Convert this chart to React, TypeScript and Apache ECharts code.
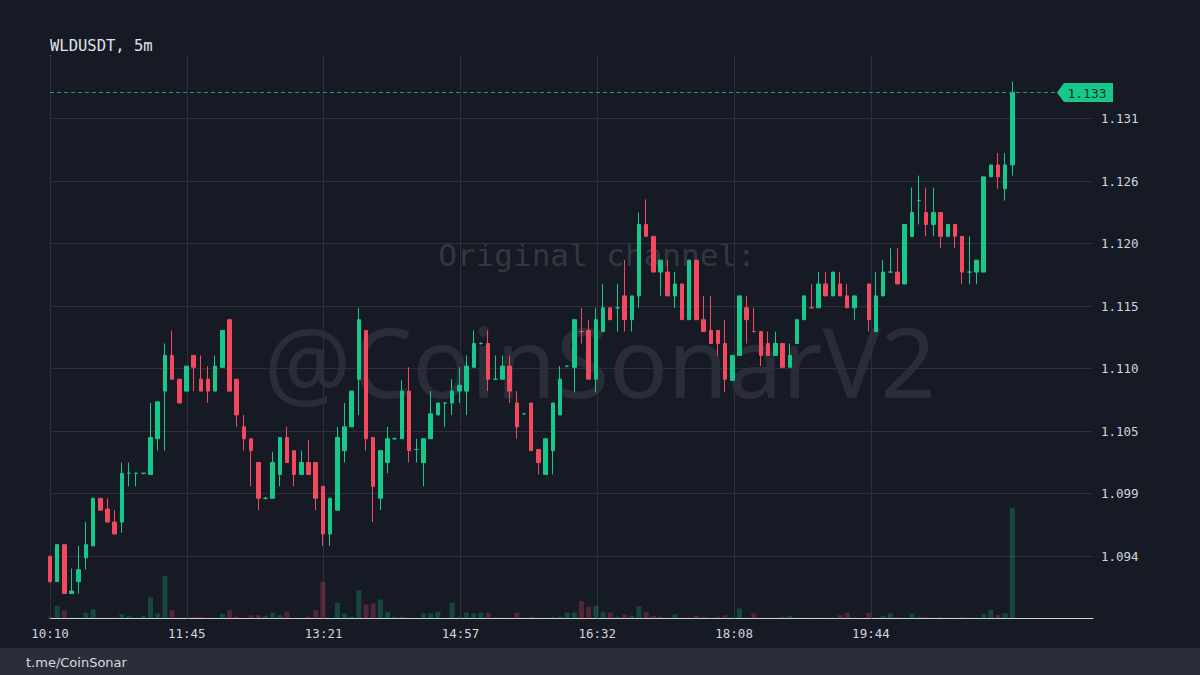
import React, { useEffect, useRef } from 'react';
import * as echarts from 'echarts';

// ---------- data ----------
const titleText = 'WLDUSDT, 5m';
const footerText = 't.me/CoinSonar';
const watermarkTop = 'Original channel:';
const watermarkMain = '@CoinSonarV2';

// time labels shown on the x axis (every ~19 candles of 5m)
const timeLabels = ['10:10', '11:45', '13:21', '14:57', '16:32', '18:08', '19:44'];
// price tick labels on the right axis
const priceLabels = ['1.094', '1.099', '1.105', '1.110', '1.115', '1.120', '1.126', '1.131'];
const lastPriceLabel = '1.133';

// [open, high, low, close]
const ohlc: ([number, number, number, number] | null)[] = [
  [1.0940, 1.0941, 1.0918, 1.0919], [1.0919, 1.0950, 1.0919, 1.0950], [1.0950, 1.0950, 1.0909, 1.0909],
  [1.0909, 1.0930, 1.0909, 1.0911], [1.0919, 1.0949, 1.0909, 1.0929], [1.0939, 1.0969, 1.0929, 1.0950],
  [1.0949, 1.0989, 1.0949, 1.0989], [1.0989, 1.0989, 1.0979, 1.0979], [1.0980, 1.0989, 1.0969, 1.0969],
  [1.0969, 1.0979, 1.0959, 1.0959],
  [1.0969, 1.1019, 1.0960, 1.1010], [1.1010, 1.1019, 1.0999, 1.1010], [1.1010, 1.1010, 1.0999, 1.1010],
  [1.1010, 1.1010, 1.1009, 1.1010], [1.1009, 1.1069, 1.1009, 1.1040], [1.1039, 1.1070, 1.1029, 1.1070],
  [1.1079, 1.1119, 1.1029, 1.1109], [1.1109, 1.1130, 1.1089, 1.1089], [1.1089, 1.1089, 1.1069, 1.1069],
  [1.1079, 1.1100, 1.1079, 1.1100],
  [1.1109, 1.1109, 1.1079, 1.1099], [1.1089, 1.1109, 1.1079, 1.1079], [1.1089, 1.1100, 1.1069, 1.1079],
  [1.1079, 1.1109, 1.1079, 1.1100], [1.1099, 1.1130, 1.1099, 1.1130], [1.1139, 1.1139, 1.1079, 1.1079],
  [1.1089, 1.1089, 1.1049, 1.1059], [1.1049, 1.1059, 1.1029, 1.1039], [1.1039, 1.1039, 1.0999, 1.1029],
  [1.1019, 1.1019, 1.0979, 1.0989],
  [1.0989, 1.0990, 1.0988, 1.0989], [1.0989, 1.1028, 1.0989, 1.1019], [1.1009, 1.1040, 1.0999, 1.1040],
  [1.1040, 1.1049, 1.1019, 1.1019], [1.1029, 1.1029, 1.0999, 1.1009], [1.1009, 1.1029, 1.1009, 1.1019],
  [1.1019, 1.1038, 1.1009, 1.1009], [1.1019, 1.1019, 1.0979, 1.0989], [1.0999, 1.0999, 1.0949, 1.0959],
  [1.0959, 1.0989, 1.0949, 1.0989],
  [1.0979, 1.1049, 1.0979, 1.1040], [1.1029, 1.1069, 1.1019, 1.1049], [1.1049, 1.1079, 1.1049, 1.1079],
  [1.1089, 1.1149, 1.1059, 1.1139], [1.1130, 1.1130, 1.1029, 1.1039], [1.1040, 1.1040, 1.0969, 1.0999],
  [1.0989, 1.1029, 1.0979, 1.1029], [1.1019, 1.1049, 1.1010, 1.1039], [1.1039, 1.1040, 1.1038, 1.1039],
  [1.1039, 1.1088, 1.1039, 1.1079],
  [1.1079, 1.1099, 1.1019, 1.1029], [1.1030, 1.1039, 1.1019, 1.1030], [1.1019, 1.1039, 1.0999, 1.1039],
  [1.1039, 1.1079, 1.1039, 1.1060], [1.1059, 1.1069, 1.1059, 1.1069], [1.1069, 1.1069, 1.1049, 1.1069],
  [1.1069, 1.1089, 1.1059, 1.1079], [1.1079, 1.1099, 1.1069, 1.1084], [1.1079, 1.1109, 1.1059, 1.1100],
  [1.1099, 1.1130, 1.1099, 1.1119],
  [1.1119, 1.1120, 1.1118, 1.1119], [1.1119, 1.1130, 1.1079, 1.1089], [1.1089, 1.1109, 1.1089, 1.1089],
  [1.1089, 1.1109, 1.1089, 1.1100], [1.1100, 1.1109, 1.1069, 1.1079], [1.1069, 1.1079, 1.1039, 1.1049],
  [1.1060, 1.1060, 1.1059, 1.1060], [1.1069, 1.1069, 1.1029, 1.1029], [1.1030, 1.1030, 1.1009, 1.1019],
  [1.1009, 1.1039, 1.1009, 1.1039],
  [1.1029, 1.1069, 1.1009, 1.1069], [1.1059, 1.1100, 1.1059, 1.1089], [1.1100, 1.1100, 1.1099, 1.1100],
  [1.1099, 1.1139, 1.1078, 1.1139], [1.1129, 1.1149, 1.1119, 1.1129], [1.1130, 1.1139, 1.1089, 1.1089],
  [1.1089, 1.1149, 1.1078, 1.1139], [1.1129, 1.1169, 1.1129, 1.1149], [1.1149, 1.1149, 1.1139, 1.1139],
  [1.1149, 1.1169, 1.1129, 1.1149],
  [1.1159, 1.1189, 1.1129, 1.1139], [1.1139, 1.1159, 1.1129, 1.1159], [1.1159, 1.1229, 1.1149, 1.1219],
  [1.1219, 1.1240, 1.1209, 1.1209], [1.1209, 1.1209, 1.1179, 1.1179], [1.1179, 1.1189, 1.1159, 1.1189],
  [1.1179, 1.1189, 1.1159, 1.1159], [1.1159, 1.1179, 1.1149, 1.1169], [1.1169, 1.1169, 1.1139, 1.1139],
  [1.1139, 1.1189, 1.1139, 1.1189],
  [1.1189, 1.1189, 1.1139, 1.1139], [1.1139, 1.1159, 1.1129, 1.1129], [1.1130, 1.1159, 1.1119, 1.1119],
  [1.1130, 1.1130, 1.1109, 1.1119], [1.1119, 1.1139, 1.1078, 1.1089], [1.1088, 1.1109, 1.1088, 1.1109],
  [1.1109, 1.1159, 1.1109, 1.1159], [1.1149, 1.1159, 1.1119, 1.1139], [1.1129, 1.1149, 1.1129, 1.1129],
  [1.1129, 1.1129, 1.1100, 1.1109],
  [1.1119, 1.1129, 1.1109, 1.1109], [1.1109, 1.1129, 1.1109, 1.1119], [1.1119, 1.1119, 1.1099, 1.1099],
  [1.1099, 1.1119, 1.1099, 1.1109], [1.1119, 1.1139, 1.1119, 1.1139], [1.1139, 1.1159, 1.1139, 1.1159],
  [1.1149, 1.1169, 1.1149, 1.1149], [1.1149, 1.1179, 1.1149, 1.1169], [1.1169, 1.1179, 1.1159, 1.1159],
  [1.1159, 1.1179, 1.1159, 1.1179],
  [1.1169, 1.1179, 1.1159, 1.1159], [1.1159, 1.1169, 1.1149, 1.1149], [1.1149, 1.1159, 1.1139, 1.1159],
  null, [1.1169, 1.1169, 1.1129, 1.1139], [1.1129, 1.1179, 1.1129, 1.1159],
  [1.1159, 1.1189, 1.1159, 1.1179], [1.1179, 1.1199, 1.1179, 1.1179], [1.1179, 1.1199, 1.1169, 1.1169],
  [1.1169, 1.1219, 1.1169, 1.1219],
  [1.1209, 1.1250, 1.1209, 1.1229], [1.1239, 1.1260, 1.1219, 1.1239], [1.1229, 1.1250, 1.1209, 1.1219],
  [1.1219, 1.1250, 1.1209, 1.1229], [1.1229, 1.1229, 1.1199, 1.1209], [1.1209, 1.1219, 1.1209, 1.1219],
  [1.1219, 1.1219, 1.1199, 1.1209], [1.1209, 1.1209, 1.1169, 1.1179], [1.1179, 1.1209, 1.1169, 1.1179],
  [1.1179, 1.1189, 1.1169, 1.1189],
  [1.1179, 1.1259, 1.1179, 1.1259], [1.1259, 1.1269, 1.1259, 1.1269], [1.1269, 1.1279, 1.1249, 1.1259],
  [1.1249, 1.1279, 1.1239, 1.1269], [1.1269, 1.1339, 1.1260, 1.1330],
];

const volumes: number[] = [
  17, 127, 83, 10, 10, 57, 93, 10, 10, 10,
  43, 23, 10, 27, 210, 50, 427, 83, 10, 10,
  17, 17, 10, 10, 47, 83, 17, 7, 33, 33,
  27, 57, 33, 67, 7, 7, 17, 83, 367, 7,
  157, 47, 17, 283, 140, 150, 190, 67, 17, 17,
  7, 7, 50, 50, 67, 7, 157, 17, 60, 50,
  60, 57, 10, 10, 10, 57, 10, 17, 10, 10,
  17, 17, 60, 60, 173, 117, 127, 67, 60, 17,
  40, 27, 123, 67, 27, 17, 10, 40, 10, 10,
  27, 17, 10, 17, 33, 10, 100, 10, 50, 10,
  10, 10, 17, 27, 10, 10, 10, 10, 10, 10,
  33, 57, 10, 0, 57, 10, 27, 50, 15, 10,
  46, 18, 15, 10, 15, 10, 10, 15, 10, 10,
  46, 88, 35, 53, 1108,
];

// ---------- layout / style constants ----------
const BASE = 1.0888; // price at the bottom edge of the plot
const STEP = 0.00525; // price tick step
const LABEL_STEP = 19.05; // candles between time labels
const X_MAX = 145.22;
const VOL_MAX = 5625;

const BG = '#161a25';
const GRID = '#2c303c';
const AXIS = '#d6d6d6';
const TEXT = '#d1d4dc';
const UP = '#16c98a';
const DOWN = '#f2495f';
const UP_VOL = 'rgba(22,201,138,0.26)';
const DOWN_VOL = 'rgba(242,73,95,0.28)';
const PRICE_LINE = '#1c9b74';
const MONO = '"DejaVu Sans Mono", monospace';

function staticGraphics(): any[] {
  return [
    {
      id: 'wm1',
      type: 'text',
      z: 0,
      silent: true,
      style: {
        text: watermarkTop,
        x: 597,
        y: 255,
        textAlign: 'center',
        textVerticalAlign: 'middle',
        font: '31px "DejaVu Sans Mono", monospace',
        fill: 'rgba(255,255,255,0.15)',
      },
    },
    {
      id: 'wm2',
      type: 'text',
      z: 0,
      silent: true,
      style: {
        text: watermarkMain,
        x: 600,
        y: 360,
        textAlign: 'center',
        textVerticalAlign: 'middle',
        font: '97px "Noto Sans", sans-serif',
        fill: 'rgba(255,255,255,0.085)',
      },
    },
    {
      id: 'title',
      type: 'text',
      silent: true,
      style: {
        text: titleText,
        x: 50,
        y: 46,
        textAlign: 'left',
        textVerticalAlign: 'middle',
        font: '15.5px "DejaVu Sans Mono", monospace',
        fill: '#e0e3eb',
      },
    },
    {
      id: 'footerBg',
      type: 'rect',
      silent: true,
      shape: { x: 0, y: 648, width: 1200, height: 27 },
      style: { fill: '#2a2e39' },
    },
    {
      id: 'footerText',
      type: 'text',
      silent: true,
      style: {
        text: footerText,
        x: 26,
        y: 662,
        textAlign: 'left',
        textVerticalAlign: 'middle',
        font: '13px "DejaVu Sans", sans-serif',
        fill: '#d8dbe2',
      },
    },
  ];
}

function priceGraphics(px0: number, py: number): any[] {
  return [
    {
      id: 'priceLine',
      type: 'line',
      z: 50,
      silent: true,
      shape: { x1: px0, y1: py, x2: 1058, y2: py },
      style: { stroke: PRICE_LINE, lineWidth: 1, lineDash: [4, 3] },
    },
    {
      id: 'tag',
      type: 'group',
      x: 0,
      y: py,
      z: 100,
      silent: true,
      children: [
        {
          type: 'polygon',
          z: 100,
          shape: { points: [[1057, 0], [1064, -9.5], [1113, -9.5], [1113, 9.5], [1064, 9.5]] },
          style: { fill: UP },
        },
        {
          type: 'text',
          z: 101,
          style: {
            text: lastPriceLabel,
            x: 1087,
            y: 0.5,
            textAlign: 'center',
            textVerticalAlign: 'middle',
            font: '13px "DejaVu Sans Mono", monospace',
            fill: '#0d3326',
          },
        },
      ],
    },
  ];
}

export default function App() {
  const ref = useRef<HTMLDivElement>(null);

  useEffect(() => {
    if (!ref.current) return;
    const chart = echarts.init(ref.current, undefined, { renderer: 'svg' });

    const candleData: number[][] = [];
    ohlc.forEach((c, i) => {
      if (c) candleData.push([i, c[0] - BASE, c[3] - BASE, c[2] - BASE, c[1] - BASE]);
    });

    let prevClose = ohlc[0] ? ohlc[0][0] : 0;
    const volData = volumes.map((v, i) => {
      const c = ohlc[i];
      let up = true;
      if (c) {
        up = c[3] > c[0] ? true : c[3] < c[0] ? false : c[3] >= prevClose;
        prevClose = c[3];
      }
      return { value: [i, v], itemStyle: { color: up ? UP_VOL : DOWN_VOL } };
    });

    const lastCandle = ohlc[ohlc.length - 1] as [number, number, number, number];
    const lastClose = lastCandle[3];

    const option: any = {
      animation: false,
      backgroundColor: BG,
      grid: { left: 50, right: 107, top: 56, height: 562.5, outerBoundsMode: 'none', containLabel: false },
      xAxis: {
        type: 'value',
        min: 0,
        max: X_MAX,
        interval: LABEL_STEP,
        axisLine: { show: true, onZero: false, lineStyle: { color: AXIS, width: 1 } },
        axisTick: { show: false },
        splitLine: { show: false },
        axisLabel: {
          color: TEXT,
          fontFamily: MONO,
          fontSize: 12.5,
          margin: 8,
          showMaxLabel: false,
          formatter: (v: number) => {
            const k = Math.round(v / LABEL_STEP);
            return Math.abs(v - k * LABEL_STEP) < 1e-6 && k < timeLabels.length ? timeLabels[k] : '';
          },
        },
      },
      yAxis: [
        {
          type: 'value',
          position: 'right',
          min: 0,
          max: STEP * 9,
          interval: STEP,
          axisLine: { show: true, lineStyle: { color: AXIS, width: 1 } },
          axisTick: { show: false },
          splitLine: { show: true, showMaxLine: false, lineStyle: { color: GRID, width: 1 } },
          axisLabel: {
            color: TEXT,
            fontFamily: MONO,
            fontSize: 12.5,
            margin: 8,
            showMinLabel: false,
            showMaxLabel: false,
            formatter: (v: number) => {
              const k = Math.round(v / STEP);
              return priceLabels[k - 1] ?? '';
            },
          },
        },
        { type: 'value', show: false, min: 0, max: VOL_MAX },
      ],
      series: [
        {
          type: 'bar',
          name: 'volume',
          xAxisIndex: 0,
          yAxisIndex: 1,
          barWidth: 5,
          z: 1,
          silent: true,
          data: volData,
          markLine: {
            silent: true,
            z: 1,
            symbol: ['none', 'none'],
            label: { show: false },
            lineStyle: { color: GRID, width: 1, type: 'solid' },
            data: timeLabels.map((_, k) => ({ xAxis: k * LABEL_STEP })),
          },
        },
        {
          type: 'candlestick',
          name: 'WLDUSDT',
          xAxisIndex: 0,
          yAxisIndex: 0,
          barWidth: 4,
          z: 3,
          clip: true,
          itemStyle: { color: UP, color0: DOWN, borderColor: UP, borderColor0: DOWN, borderWidth: 1 },
          data: candleData,
        },
      ],
      graphic: staticGraphics(),
    };

    chart.setOption(option);

    const py = chart.convertToPixel({ yAxisIndex: 0 }, lastClose - BASE) as number;
    const px0 = chart.convertToPixel({ xAxisIndex: 0 }, 0) as number;
    chart.setOption(
      { ...option, graphic: [...staticGraphics(), ...priceGraphics(px0, Math.round(py) + 0.5)] },
      true
    );

    return () => chart.dispose();
  }, []);

  return (
    <div
      ref={ref}
      style={{ position: 'absolute', left: 0, top: 0, width: 1200, height: 675 }}
    />
  );
}
